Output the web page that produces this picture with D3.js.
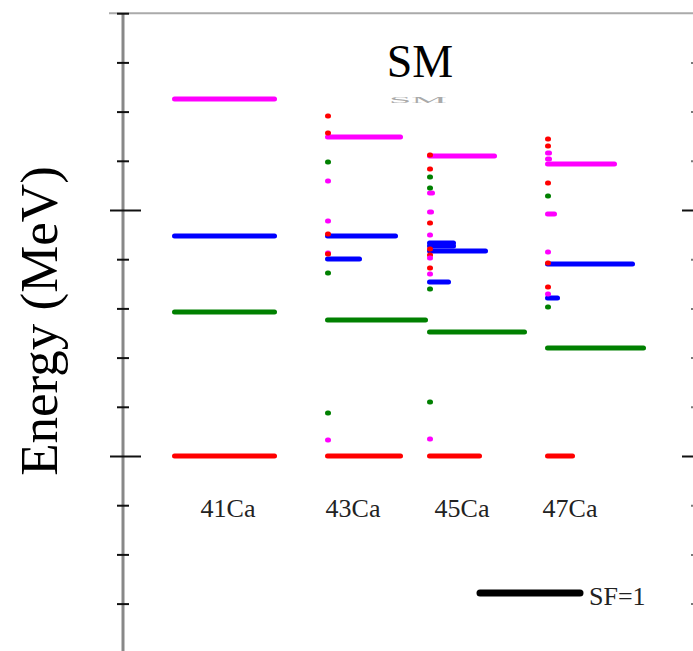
<!DOCTYPE html>
<html>
<head>
<meta charset="utf-8">
<script src="https://cdn.jsdelivr.net/npm/d3@7"></script>
<style>
	body { margin: 0; background: #ffffff; }
</style>
</head>
<body>
<div id="chart"></div>
<script>
// nuclei and the orbit each colour stands for
var nuclei = ["41Ca", "43Ca", "45Ca", "47Ca"];
var orbits = ["f7/2", "p3/2", "p1/2", "f5/2"];
var orbitColors = ["#ff0000", "#008000", "#0000ff", "#ff00ff"];

// levels per nucleus: energy (MeV), spectroscopic factor, orbit
var ca41Energy = [0, 0.585, 0.894, 1.451];
var ca41SF     = [1.0, 1.0, 1.0, 1.0];
var ca41Orbit  = ["f7/2", "p3/2", "p1/2", "f5/2"];

var ca43Energy = [0, 0.553, 0.801, 0.894, 1.297,
	1.382, 1.313, 1.195, 1.118, 0.955, 0.902, 0.825, 0.821, 0.744, 0.175, 0.065];
var ca43SF     = [0.73, 0.98, 0.32, 0.68, 0.73,
	0.01, 0.01, 0.01, 0.01, 0.01, 0.01, 0.01, 0.01, 0.01, 0.01, 0.01];
var ca43Orbit  = ["f7/2", "p3/2", "p1/2", "p1/2", "f5/2",
	"f7/2", "f7/2", "p3/2", "f5/2", "f5/2", "f7/2", "f5/2", "f7/2", "p3/2", "p3/2", "f5/2"];

var ca45Energy = [0, 0.504, 0.707, 0.833, 0.854, 0.866, 1.220,
	1.224, 1.167, 1.134, 1.089, 1.069, 0.992, 0.947, 0.898, 0.841, 0.817, 0.805, 0.764, 0.740, 0.679, 0.220, 0.069];
var ca45SF     = [0.50, 0.95, 0.19, 0.56, 0.24, 0.24, 0.65,
	0.01, 0.01, 0.01, 0.01, 0.03, 0.02, 0.01, 0.01, 0.01, 0.01, 0.01, 0.01, 0.01, 0.01, 0.01, 0.01];
var ca45Orbit  = ["f7/2", "p3/2", "p1/2", "p1/2", "p1/2", "p1/2", "f5/2",
	"f7/2", "f7/2", "p3/2", "p3/2", "f5/2", "f5/2", "f7/2", "f5/2", "f7/2", "f7/2", "f5/2", "f7/2", "f5/2", "p3/2", "p3/2", "f5/2"];

var ca47Energy = [0, 0.439, 0.642, 0.780, 1.187, 0.984,
	1.289, 1.260, 1.232, 1.207, 1.110, 1.057, 0.829, 0.785, 0.687, 0.659, 0.606];
var ca47SF     = [0.25, 0.96, 0.10, 0.85, 0.67, 0.07,
	0.01, 0.01, 0.02, 0.02, 0.01, 0.01, 0.01, 0.01, 0.01, 0.01, 0.01];
var ca47Orbit  = ["f7/2", "p3/2", "p1/2", "p1/2", "f5/2", "f5/2",
	"f7/2", "f7/2", "f5/2", "f5/2", "f7/2", "p3/2", "f5/2", "f7/2", "f7/2", "f5/2", "p3/2"];

// axis ticks (MeV)
var tickValues = [-0.8, -0.6, -0.4, -0.2, 0, 0.2, 0.4, 0.6, 0.8, 1.0, 1.2, 1.4, 1.6, 1.8];
var majorTicks = [0, 1.0];

var levelArrays = [
	[ca41Energy, ca41SF, ca41Orbit],
	[ca43Energy, ca43SF, ca43Orbit],
	[ca45Energy, ca45SF, ca45Orbit],
	[ca47Energy, ca47SF, ca47Orbit]
];

var levels = [];
for (var n = 0; n < nuclei.length; n++) {
	var arr = levelArrays[n];
	for (var i = 0; i < arr[0].length; i++) {
		levels.push({"nucleus": nuclei[n], "energy": arr[0][i], "sf": arr[1][i], "orbit": arr[2][i]});
	}
}

var width = 693, height = 651;
var svg = d3.select("#chart").append("svg")
	.attr("width", width)
	.attr("height", height)
	.style("font-family", "'Liberation Serif', 'Times New Roman', serif");

var axisX = 123;

var y = d3.scaleLinear()
	.domain([-0.8, 1.8])
	.range([652.8, 13.2]);

// where each nucleus column starts and where its label is centred
var xStart = d3.scaleOrdinal().domain(nuclei).range([172, 325, 427, 545]);
var xLabel = d3.scaleOrdinal().domain(nuclei).range([228, 353, 462, 570]);
var sfLen = d3.scaleLinear().domain([0, 1]).range([0, 100]);
var color = d3.scaleOrdinal().domain(orbits).range(orbitColors);

// top frame line
svg.append("line")
	.attr("x1", 109).attr("x2", width)
	.attr("y1", y(1.8)).attr("y2", y(1.8))
	.attr("stroke", "#aaaaaa")
	.attr("stroke-width", 2);

// left axis
var leftAxis = svg.append("g")
	.attr("transform", "translate(" + axisX + ",0)")
	.call(d3.axisLeft(y).tickValues(tickValues).tickFormat(""));
leftAxis.select(".domain")
	.attr("d", "M0," + y(1.8) + "V" + height)
	.attr("stroke", "#888888")
	.attr("stroke-width", 3);
leftAxis.selectAll(".tick line")
	.attr("x1", function(d) { return majorTicks.indexOf(d) >= 0 ? -13 : -6; })
	.attr("x2", function(d) { return majorTicks.indexOf(d) >= 0 ? 18 : 6; })
	.attr("stroke", "#111111")
	.attr("stroke-width", 2);

// right axis (only ticks showing at the edge)
var rightAxis = svg.append("g")
	.attr("transform", "translate(" + width + ",0)")
	.call(d3.axisLeft(y).tickValues(tickValues.filter(function(d) { return d < 1.7; })).tickFormat(""));
rightAxis.select(".domain").remove();
rightAxis.selectAll(".tick line")
	.attr("x1", 0)
	.attr("x2", function(d) { return majorTicks.indexOf(d) >= 0 ? -11 : -2; })
	.attr("stroke", function(d) { return majorTicks.indexOf(d) >= 0 ? "#111111" : "#777777"; })
	.attr("stroke-width", 2);

// level bars, drawn longest first so dots stay visible
var sorted = levels.slice().sort(function(a, b) { return b.sf - a.sf; });
svg.append("g").selectAll(".level")
	.data(sorted)
	.enter()
	.append("line")
		.attr("class", "level")
		.attr("x1", function(d) { return xStart(d.nucleus) + 2.5; })
		.attr("x2", function(d) { return xStart(d.nucleus) + 2.5 + sfLen(d.sf); })
		.attr("y1", function(d) { return y(d.energy); })
		.attr("y2", function(d) { return y(d.energy); })
		.attr("stroke", function(d) { return color(d.orbit); })
		.attr("stroke-width", 5)
		.attr("stroke-linecap", "round");

// nucleus labels
svg.append("g").selectAll(".nucLabel")
	.data(nuclei)
	.enter()
	.append("text")
		.attr("class", "nucLabel")
		.attr("x", function(d) { return xLabel(d); })
		.attr("y", 517)
		.attr("text-anchor", "middle")
		.attr("font-size", "26px")
		.attr("fill", "#222222")
		.text(function(d) { return d; });

// title, with the squashed cut-off copy underneath it
svg.append("text")
	.attr("transform", "translate(418,103) scale(1,0.18)")
	.attr("text-anchor", "middle")
	.attr("font-size", "40px")
	.attr("fill", "#aaaaaa")
	.text("SM");

svg.append("text")
	.attr("x", 420)
	.attr("y", 77)
	.attr("text-anchor", "middle")
	.attr("font-size", "46px")
	.attr("fill", "#000000")
	.text("SM");

// y label
svg.append("text")
	.attr("transform", "translate(57," + 321 + ") rotate(-90)")
	.attr("text-anchor", "middle")
	.attr("font-size", "53px")
	.attr("fill", "#000000")
	.text("Energy (MeV)");

// SF=1 legend
svg.append("line")
	.attr("x1", xStart("45Ca") + 53)
	.attr("x2", xStart("45Ca") + 53 + sfLen(1))
	.attr("y1", 593).attr("y2", 593)
	.attr("stroke", "#000000")
	.attr("stroke-width", 7)
	.attr("stroke-linecap", "round");
svg.append("text")
	.attr("x", 589)
	.attr("y", 605)
	.attr("font-size", "26px")
	.attr("fill", "#222222")
	.text("SF=1");
</script>
</body>
</html>
